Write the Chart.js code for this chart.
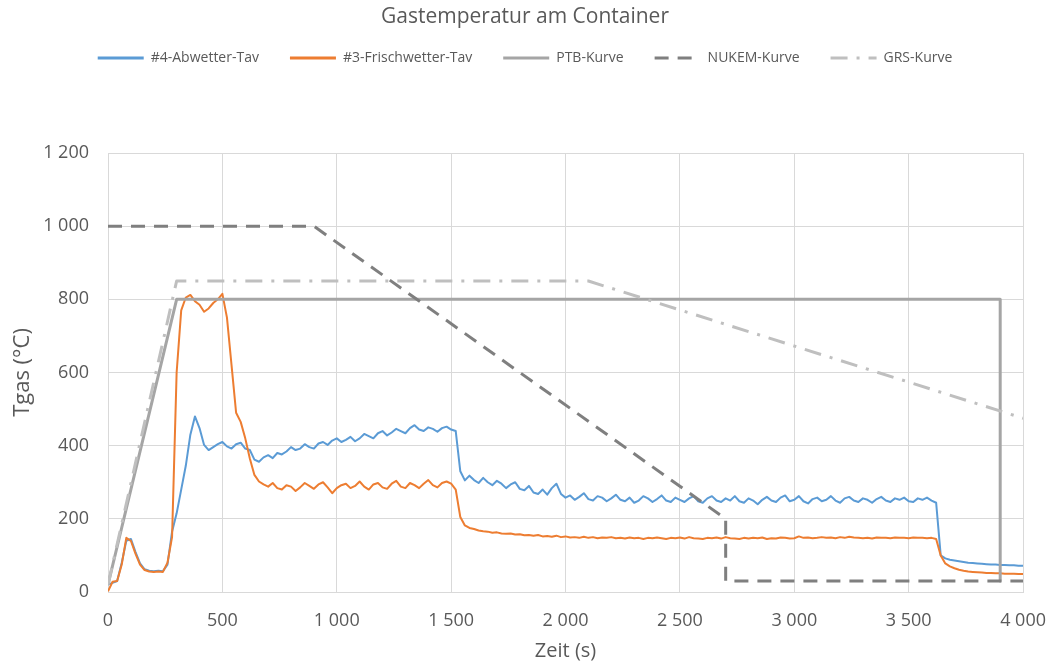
<!DOCTYPE html>
<html lang="de">
<head>
<meta charset="utf-8">
<title>Gastemperatur am Container</title>
<script src="https://cdn.jsdelivr.net/npm/chart.js@4.4.1/dist/chart.umd.min.js"></script>
<style>
  html, body { margin: 0; padding: 0; background: #ffffff; }
  #wrap { position: relative; width: 1050px; height: 665px; }
</style>
</head>
<body>
<div id="wrap"><canvas id="gasChart"></canvas></div>
<script>
// Messzeitpunkte (s), gemeinsam fuer beide Thermoelement-Mittelwerte
const zeit = [
  0, 20, 40, 60, 80, 100, 120, 140, 160, 180,
  200, 220, 240, 260, 280, 300, 320, 340, 360, 380,
  400, 420, 440, 460, 480, 500, 520, 540, 560, 580,
  600, 620, 640, 660, 680, 700, 720, 740, 760, 780,
  800, 820, 840, 860, 880, 900, 920, 940, 960, 980,
  1000, 1020, 1040, 1060, 1080, 1100, 1120, 1140, 1160, 1180,
  1200, 1220, 1240, 1260, 1280, 1300, 1320, 1340, 1360, 1380,
  1400, 1420, 1440, 1460, 1480, 1500, 1520, 1540, 1560, 1580,
  1600, 1620, 1640, 1660, 1680, 1700, 1720, 1740, 1760, 1780,
  1800, 1820, 1840, 1860, 1880, 1900, 1920, 1940, 1960, 1980,
  2000, 2020, 2040, 2060, 2080, 2100, 2120, 2140, 2160, 2180,
  2200, 2220, 2240, 2260, 2280, 2300, 2320, 2340, 2360, 2380,
  2400, 2420, 2440, 2460, 2480, 2500, 2520, 2540, 2560, 2580,
  2600, 2620, 2640, 2660, 2680, 2700, 2720, 2740, 2760, 2780,
  2800, 2820, 2840, 2860, 2880, 2900, 2920, 2940, 2960, 2980,
  3000, 3020, 3040, 3060, 3080, 3100, 3120, 3140, 3160, 3180,
  3200, 3220, 3240, 3260, 3280, 3300, 3320, 3340, 3360, 3380,
  3400, 3420, 3440, 3460, 3480, 3500, 3520, 3540, 3560, 3580,
  3600, 3620, 3640, 3660, 3680, 3700, 3720, 3740, 3760, 3780,
  3800, 3820, 3840, 3860, 3880, 3900, 3920, 3940, 3960, 3980,
  4000
];

// #4 Abwetter, Mittelwert (°C)
const tempAbwetter = [
  20, 25, 30, 80, 140, 145, 110, 78, 62, 58,
  57, 58, 57, 75, 165, 215, 280, 345, 430, 480,
  448, 402, 388, 396, 404, 410, 398, 392, 404, 408,
  392, 388, 362, 356, 368, 374, 366, 380, 376, 384,
  396, 388, 392, 404, 396, 392, 406, 410, 402, 414,
  420, 410, 416, 424, 412, 420, 432, 426, 420, 434,
  440, 428, 436, 446, 440, 434, 448, 456, 444, 440,
  450, 446, 438, 448, 452, 444, 440, 330, 305, 318,
  306, 298, 312, 300, 292, 304, 296, 284, 294, 300,
  282, 278, 290, 272, 268, 280, 266, 284, 296, 268,
  258, 264, 252, 260, 270, 254, 250, 262, 258, 248,
  256, 266, 252, 248, 258, 244, 250, 262, 256, 246,
  254, 264, 250, 246, 258, 252, 246, 256, 262, 248,
  244, 256, 262, 250, 246, 256, 250, 262, 248, 244,
  256, 250, 240, 252, 260, 250, 246, 258, 264, 248,
  252, 262, 248, 242, 254, 258, 248, 252, 262, 250,
  244, 256, 260, 250, 246, 256, 252, 244, 254, 260,
  250, 246, 256, 252, 258, 248, 246, 256, 252, 258,
  250, 244, 100, 92, 88, 86, 84, 82, 80, 79,
  78, 77, 76, 75, 75, 74, 74, 73, 73, 72,
  72
];

// #3 Frischwetter, Mittelwert (°C)
const tempFrischwetter = [
  2, 28, 30, 75, 148, 140, 105, 75, 60, 56,
  55, 56, 55, 80, 150, 600, 770, 805, 812, 795,
  785, 766, 775, 790, 800, 815, 750, 620, 490, 465,
  420, 365, 320, 302, 294, 288, 298, 284, 280, 292,
  288, 276, 286, 298, 290, 282, 294, 300, 286, 270,
  284, 292, 296, 284, 290, 302, 288, 280, 294, 298,
  286, 282, 296, 304, 288, 284, 298, 292, 284, 296,
  306, 292, 286, 298, 302, 296, 280, 205, 182, 175,
  172, 168, 166, 165, 162, 163, 160, 159, 160, 157,
  158, 155, 156, 154, 156, 152, 153, 151, 154, 150,
  152, 149, 150, 148, 151, 148, 150, 147, 149, 148,
  150, 147, 148, 146, 149, 147, 148, 145, 148, 147,
  149, 147, 145, 148, 147, 149, 146, 150, 147, 146,
  145, 148, 147, 149, 146, 150, 147, 146, 145, 148,
  146, 148, 147, 149, 145, 147, 146, 149, 148, 146,
  147, 152, 148, 149, 147, 148, 150, 148, 149, 147,
  150, 148, 151, 149, 148, 147, 148, 146, 149, 148,
  148, 147, 149, 148, 148, 147, 149, 148, 148, 147,
  148, 145, 100, 78, 70, 65, 61, 58, 56, 55,
  54, 53, 52, 52, 51, 51, 50, 50, 50, 49,
  49
];

// Normkurven
const ptbZeit = [0, 300, 3900, 3900];
const ptbTemp = [20, 800, 800, 30];
const nukemZeit = [0, 900, 2700, 2700, 4000];
const nukemTemp = [1000, 1000, 200, 30, 30];
const grsZeit = [0, 300, 2100, 4000];
const grsTemp = [20, 850, 850, 475];

const textFarbe = '#595959';
const gitterFarbe = '#D9D9D9';

function punkte(xs, ys) {
  return xs.map((t, i) => ({ x: t, y: ys[i] }));
}

// 1200 -> "1 200"
function tausender(v) {
  return String(v).replace(/\B(?=(\d{3})+(?!\d))/g, ' ');
}

// Legende als Linien mit dem Strichmuster der jeweiligen Kurve
function legendenEintraege(chart) {
  const items = Chart.defaults.plugins.legend.labels.generateLabels(chart);
  items.forEach((item) => {
    const ds = chart.data.datasets[item.datasetIndex];
    item.pointStyle = 'line';
    item.strokeStyle = ds.borderColor;
    item.lineWidth = 3;
    item.lineDash = ds.borderDash || [];
  });
  return items;
}

Chart.defaults.font.family = "'Open Sans', sans-serif";
Chart.defaults.color = textFarbe;

const ctx = document.getElementById('gasChart');

new Chart(ctx, {
  type: 'line',
  data: {
    datasets: [
      {
        label: '#4-Abwetter-Tav',
        data: punkte(zeit, tempAbwetter),
        borderColor: '#5B9BD5',
        backgroundColor: '#5B9BD5',
        borderWidth: 2,
        order: 5
      },
      {
        label: '#3-Frischwetter-Tav',
        data: punkte(zeit, tempFrischwetter),
        borderColor: '#ED7D31',
        backgroundColor: '#ED7D31',
        borderWidth: 2,
        order: 4
      },
      {
        label: 'PTB-Kurve',
        data: punkte(ptbZeit, ptbTemp),
        borderColor: '#A5A5A5',
        backgroundColor: '#A5A5A5',
        borderWidth: 3,
        order: 3
      },
      {
        label: 'NUKEM-Kurve',
        data: punkte(nukemZeit, nukemTemp),
        borderColor: '#7F7F7F',
        backgroundColor: '#7F7F7F',
        borderWidth: 3,
        borderDash: [14, 9],
        order: 2
      },
      {
        label: 'GRS-Kurve',
        data: punkte(grsZeit, grsTemp),
        borderColor: '#BFBFBF',
        backgroundColor: '#BFBFBF',
        borderWidth: 3,
        borderDash: [17, 9, 3, 9],
        order: 1
      }
    ]
  },
  options: {
    responsive: true,
    maintainAspectRatio: false,
    animation: false,
    devicePixelRatio: 1,
    elements: {
      point: { radius: 0, hoverRadius: 0 },
      line: { tension: 0, fill: false, borderJoinStyle: 'round' }
    },
    layout: {
      padding: 0
    },
    plugins: {
      tooltip: { enabled: false },
      title: {
        display: true,
        text: 'Gastemperatur am Container',
        color: textFarbe,
        font: { size: 21, weight: 'normal', lineHeight: 1 },
        // negativer Abstand unten: Legende rueckt naeher an den Titel
        padding: { top: 7, bottom: -8 }
      },
      legend: {
        position: 'top',
        labels: {
          usePointStyle: true,
          pointStyle: 'line',
          pointStyleWidth: 46,
          padding: 31,
          color: textFarbe,
          font: { size: 14 },
          generateLabels: legendenEintraege,
          sort: (a, b) => a.datasetIndex - b.datasetIndex
        }
      }
    },
    scales: {
      x: {
        type: 'linear',
        position: 'bottom',
        min: 0,
        max: 4000,
        ticks: {
          stepSize: 500,
          padding: 4,
          color: textFarbe,
          font: { size: 18 },
          maxRotation: 0,
          callback: (v) => tausender(v)
        },
        grid: {
          color: gitterFarbe,
          lineWidth: 1,
          tickLength: 14,
          tickColor: 'rgba(0,0,0,0)'
        },
        border: { color: gitterFarbe },
        title: {
          display: true,
          text: 'Zeit (s)',
          color: textFarbe,
          font: { size: 20 },
          padding: { top: 0, bottom: 2 }
        },
        afterFit: (scale) => { scale.height = 73; }
      },
      // nur Abstand zwischen Legende und Diagrammflaeche
      xTop: {
        type: 'linear',
        axis: 'x',
        position: 'top',
        min: 0,
        max: 4000,
        grid: { display: false },
        ticks: { display: false },
        border: { display: false },
        afterFit: (scale) => { scale.height = 78; }
      },
      y: {
        min: 0,
        max: 1200,
        ticks: {
          stepSize: 200,
          padding: 19,
          color: textFarbe,
          font: { size: 18 },
          callback: (v) => tausender(v)
        },
        grid: { color: gitterFarbe, lineWidth: 1, drawTicks: false },
        border: { color: gitterFarbe },
        title: {
          display: true,
          text: 'Tgas (°C)',
          color: textFarbe,
          font: { size: 22 },
          padding: { top: 10, bottom: 0 }
        },
        afterFit: (scale) => { scale.width = 108; }
      }
    }
  }
});
</script>
</body>
</html>
